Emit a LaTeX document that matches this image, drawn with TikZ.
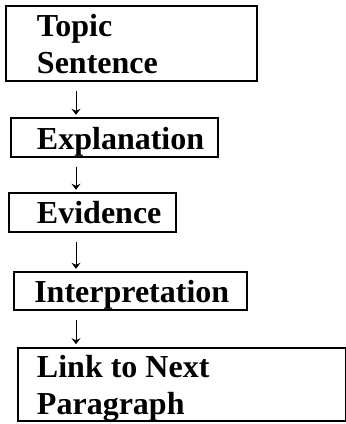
\documentclass[tikz,border=0pt]{standalone}
\usepackage{fontspec}
\setmainfont{Liberation Serif}
\usetikzlibrary{arrows.meta}
% keep the long words in one piece
\hyphenpenalty=10000
\exhyphenpenalty=10000
\hfuzz=100pt
\begin{document}
\begin{tikzpicture}[x=1pt,y=-1pt,>={Stealth[length=6pt,width=9pt,inset=2pt]},
  stepbox/.style={draw,line width=2pt,anchor=north west,align=flush left,inner ysep=0pt,
    font=\fontsize{32}{37}\selectfont\bfseries},
  flow/.style={->,line width=1pt,shorten <=9pt,shorten >=2.5pt}]
\useasboundingbox (0,0) rectangle (346,424);
\node[stepbox,inner xsep=30.7pt,text width=189.3pt,text height=30.3pt,text depth=45pt] (t) at (5.3,4.7) {Topic\\Sentence};
\node[stepbox,inner xsep=26pt,text width=154.7pt,text height=31pt,text depth=7.4pt] (x) at (10,117.3) {Explanation};
\node[stepbox,inner xsep=27.7pt,text width=111.3pt,text height=30.4pt,text depth=8pt] (e) at (8.3,192.3) {Evidence};
\node[stepbox,inner xsep=20.6pt,text width=192.1pt,text height=29.7pt,text depth=7.7pt] (p) at (12.7,271.3) {Interpretation};
\node[stepbox,inner xsep=19.3pt,text width=289.7pt,text height=30pt,text depth=43.3pt] (l) at (16.7,346.7) {Link to Next\\Paragraph};
% the arrows all run down one line
\coordinate (spine) at (76,0);
\draw[flow] (t.south -| spine) -- (x.north -| spine);
\draw[flow] (x.south -| spine) -- (e.north -| spine);
\draw[flow] (e.south -| spine) -- (p.north -| spine);
\draw[flow] (p.south -| spine) -- (l.north -| spine);
\end{tikzpicture}
\end{document}
